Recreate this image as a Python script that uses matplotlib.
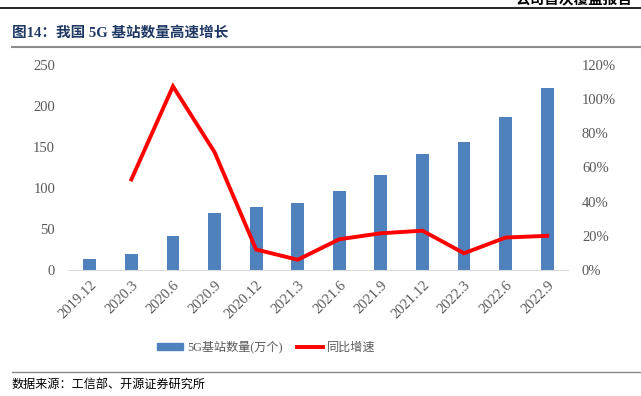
import matplotlib

matplotlib.use("Agg")
import matplotlib.pyplot as plt
from matplotlib.lines import Line2D
from matplotlib.patches import Patch
import numpy as np

# 数据
quarters = ["2019.12", "2020.3", "2020.6", "2020.9", "2020.12", "2021.3",
            "2021.6", "2021.9", "2021.12", "2022.3", "2022.6", "2022.9"]
stations = [13, 20, 41, 69, 77, 82, 96, 116, 142, 156, 186, 222]  # 万个
yoy = [np.nan, 53, 107.5, 69, 12, 6, 18, 21.5, 23, 9.8, 19, 20]  # %

FONT = ["Liberation Serif", "Noto Sans CJK SC"]
GRAY = "#595959"
BAR_C = "#4F81BD"
LINE_C = "#FF0000"

plt.rcParams["font.family"] = FONT

fig = plt.figure(figsize=(6.41, 3.96), dpi=100)
W, H = 641, 396

# 页眉/标题/页脚
fig.text(632 / W, 1 - 7 / H, "公司首次覆盖报告", ha="right", va="bottom",
         fontsize=10.5, fontweight="bold", color="black", clip_on=False)
fig.add_artist(Line2D([0, 1], [1 - 8 / H] * 2, color="black", lw=1.2))
fig.text(12 / W, 1 - 33 / H, "图14：我国 5G 基站数量高速增长", ha="left", va="center",
         fontsize=10.5, fontweight="bold", color="#1F3864")
fig.add_artist(Line2D([12 / W, 1], [1 - 47 / H] * 2, color="#8C8C8C", lw=1.5))
fig.add_artist(Line2D([12 / W, 1], [1 - 372 / H] * 2, color="#8C8C8C", lw=1.0))
fig.text(12 / W, 1 - 385 / H, "数据来源：工信部、开源证券研究所", ha="left", va="center",
         fontsize=8.7, color="black")

ax = fig.add_axes([69 / W, 1 - 270 / H, (568 - 69) / W, (270 - 65) / H])
x = np.arange(len(quarters))
ax.bar(x, stations, width=0.31, color=BAR_C, zorder=2)
ax.set_xlim(-0.5, len(quarters) - 0.5)
ax.set_ylim(0, 250)
ax.set_yticks(range(0, 251, 50))
ax.set_xticks(x)
ax.set_xticklabels(quarters, rotation=45, ha="right", rotation_mode="anchor")
for sp in ["top", "right", "left"]:
    ax.spines[sp].set_visible(False)
ax.spines["bottom"].set_color("#D9D9D9")
ax.tick_params(axis="both", length=0, colors=GRAY, labelsize=10.5)
ax.tick_params(axis="y", pad=10)
ax.tick_params(axis="x", pad=6)

ax2 = ax.twinx()
ax2.plot(x, yoy, color=LINE_C, lw=2.8, zorder=3, solid_joinstyle="miter")
ax2.set_ylim(0, 120)
ax2.set_yticks(range(0, 121, 20))
ax2.set_yticklabels([f"{v}%" for v in range(0, 121, 20)])
for sp in ax2.spines.values():
    sp.set_visible(False)
ax2.tick_params(axis="y", length=0, colors=GRAY, labelsize=10.5, pad=10)

handles = [Patch(color=BAR_C, label="5G基站数量(万个)"),
           Line2D([0], [0], color=LINE_C, lw=2.8, label="同比增速")]
fig.legend(handles=handles, loc="center", bbox_to_anchor=(266 / W, 1 - 347 / H),
           ncol=2, frameon=False, fontsize=8.7, handlelength=2.2, handleheight=0.5,
           columnspacing=1.2, handletextpad=0.3, labelcolor=GRAY)

fig.savefig("out.png", dpi=100)
